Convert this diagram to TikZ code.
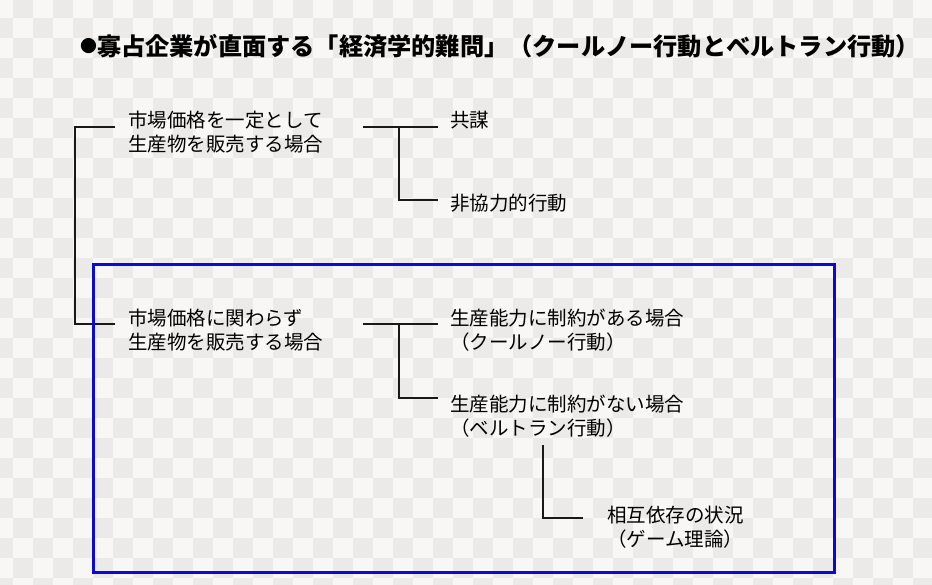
\documentclass[tikz,border=0pt]{standalone}
\usepackage{fontspec}
\newfontfamily\jp{Noto Sans CJK JP}
\definecolor{chkgray}{RGB}{236,234,232}
\definecolor{chkwhite}{RGB}{248,247,246}
\definecolor{framblue}{RGB}{10,10,210}
\begin{document}
\begin{tikzpicture}[x=1pt,y=-1pt,
  ln/.style={line width=2pt, black!90},
  lbl/.style={font=\jp\fontsize{19.5}{24}\selectfont, anchor=west, align=left, inner sep=0pt, text=black},
  ttl/.style={font=\jp\bfseries\fontsize{24.2}{28}\selectfont, anchor=west, inner sep=0pt, text=black},
  frame/.style={draw=framblue, line width=3pt}]
\useasboundingbox (0,0) rectangle (932,585);
\begin{scope}
\clip (0,0) rectangle (932,585);
\fill[chkwhite] (0,0) rectangle (932,585);
\foreach \i in {-1,...,46} {
  \foreach \j in {-1,...,28} {
    \pgfmathtruncatemacro\s{mod(\i+\j+100,2)}
    \ifnum\s=1
      \fill[chkgray] (13+20*\i,18+20*\j) rectangle ++(20,20);
    \fi
  }
}
\end{scope}
% title
\node[ttl] (title) at (80,46) {\raisebox{2.5pt}{\scalebox{0.7}{●}}寡占企業が直面する「経済学的難問」（クールノー行動とベルトラン行動）};
% labels
\node[lbl] (a1) at (128,132) {市場価格を一定として\\生産物を販売する場合};
\node[lbl] (a2) at (128,330) {市場価格に関わらず\\生産物を販売する場合};
\node[lbl] (b1) at (450,120) {共謀};
\node[lbl] (b2) at (450,203) {非協力的行動};
\node[lbl] (c1) at (450,330) {生産能力に制約がある場合\\（クールノー行動）};
\node[lbl] (c2) at (450,416) {生産能力に制約がない場合\\（ベルトラン行動）};
\node[lbl] (d1) at (607,527) {相互依存の状況\\（ゲーム理論）};
% bracket coordinates
\coordinate (r1) at (115,127);
\coordinate (r2) at (115,324);
\coordinate (rv) at (75,0);
\coordinate (s1) at (363,127);
\coordinate (s2) at (438,127);
\coordinate (s3) at (438,200);
\coordinate (u1) at (363,324);
\coordinate (u2) at (438,324);
\coordinate (u3) at (438,398);
\coordinate (v1) at (543,445);
\coordinate (v2) at (583,518);
% connectors
\draw[ln] (r1) -- (r1 -| rv) -- (r2 -| rv) -- (r2);
\draw[ln] (s1) -- (s2);
\draw[ln] (399,127) |- (s3);
\draw[ln] (u1) -- (u2);
\draw[ln] (399,324) |- (u3);
\draw[ln] (v1) |- (v2);
% blue frame
\coordinate (f1) at (93,265);
\coordinate (f2) at (834,572);
\draw[frame] (f1) rectangle (f2);
\end{tikzpicture}
\end{document}
